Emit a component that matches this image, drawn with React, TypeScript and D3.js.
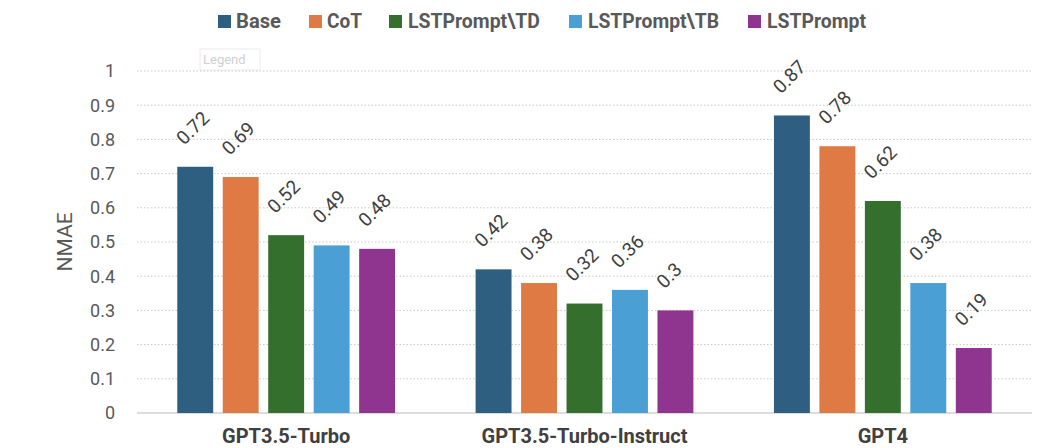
import React from "react";
import * as d3 from "d3";

const models = ["GPT3.5-Turbo", "GPT3.5-Turbo-Instruct", "GPT4"];
const methods = ["Base", "CoT", "LSTPrompt\\TD", "LSTPrompt\\TB", "LSTPrompt"];
const colors = ["#2e5f80", "#df7a44", "#356f2e", "#4a9fd5", "#90358f"];

const baseVals = [0.72, 0.42, 0.87];
const cotVals = [0.69, 0.38, 0.78];
const tdVals = [0.52, 0.32, 0.62];
const tbVals = [0.49, 0.36, 0.38];
const lstVals = [0.48, 0.3, 0.19];
const series = [baseVals, cotVals, tdVals, tbVals, lstVals];

const yTicks = [0, 0.1, 0.2, 0.3, 0.4, 0.5, 0.6, 0.7, 0.8, 0.9, 1];

const W = 1052;
const H = 448;
const left = 137;
const right = 1032;
const top = 71;
const bottom = 413;

// legend positions and text widths
const legendX = [218, 309, 389, 569, 748];
const legendW = [45, 35, 132, 131, 99];

const App: React.FC = () => {
  const x0 = d3.scaleBand().domain(models).range([left, right]).paddingInner(0.27).paddingOuter(0.135);
  const x1 = d3.scaleBand().domain(methods).range([0, x0.bandwidth()]).paddingInner(0.21);
  const y = d3.scaleLinear().domain([0, 1]).range([bottom, top]);

  return (
    <svg
      width={W}
      height={H}
      style={{ position: "absolute", left: 0, top: 0, background: "#fff" }}
      fontFamily="Roboto, 'Liberation Sans', Arial, sans-serif"
    >
      {/* legend */}
      {methods.map((m, i) => (
        <g key={m} transform={`translate(${legendX[i]},0)`}>
          <rect x={0} y={15} width={13} height={13} fill={colors[i]} />
          <text
            x={m.length > 4 ? 19 : 18}
            y={28}
            fontSize={20}
            fontWeight="bold"
            fill="#595959"
            textLength={legendW[i]}
            lengthAdjust="spacingAndGlyphs"
          >
            {m}
          </text>
        </g>
      ))}
      <rect x={200} y={49} width={60} height={21} fill="none" stroke="#ececec" />
      <text x={203} y={64} fontSize={13} fill="#d0d0d0">Legend</text>

      {/* gridlines */}
      {yTicks.filter((t) => t > 0).map((t) => (
        <line
          key={t}
          x1={left}
          x2={right}
          y1={y(t)}
          y2={y(t)}
          stroke="#c8c8c8"
          strokeDasharray="1.5,2"
        />
      ))}
      <line x1={left} x2={right} y1={y(0)} y2={y(0)} stroke="#d0d0d0" strokeWidth={1.5} />

      {/* y tick labels */}
      {yTicks.map((t) => (
        <text key={t} x={115} y={y(t)} dy="0.35em" textAnchor="end" fontSize={18} fill="#595959">
          {d3.format("~g")(t)}
        </text>
      ))}
      <text
        transform={`translate(72,${(top + bottom) / 2}) rotate(-90)`}
        textAnchor="middle"
        fontSize={21}
        fill="#595959"
      >
        NMAE
      </text>

      {/* bars */}
      {models.map((model, gi) => (
        <g key={model} transform={`translate(${x0(model)},0)`}>
          {methods.map((m, si) => {
            const v = series[si][gi];
            const bx = x1(m) || 0;
            return (
              <g key={m}>
                <rect x={bx} y={y(v)} width={x1.bandwidth()} height={y(0) - y(v)} fill={colors[si]} />
                <text
                  transform={`translate(${bx + 7},${y(v) - 21}) rotate(-45)`}
                  fontSize={19}
                  fill="#404040"
                >
                  {d3.format("~g")(v)}
                </text>
              </g>
            );
          })}
          <text
            x={x0.bandwidth() / 2}
            y={443}
            textAnchor="middle"
            fontSize={20}
            fontWeight="bold"
            fill="#404040"
          >
            {model}
          </text>
        </g>
      ))}
    </svg>
  );
};

export default App;
